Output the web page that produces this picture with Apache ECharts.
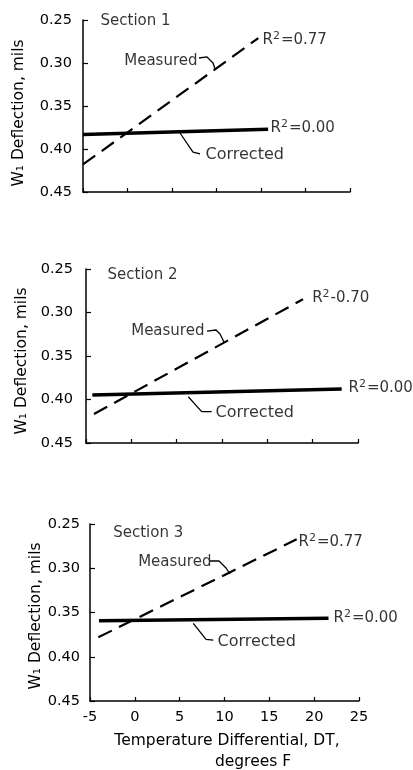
<!DOCTYPE html>
<html><head><meta charset="utf-8">
<script src="https://cdn.jsdelivr.net/npm/echarts@6/dist/echarts.min.js"></script>
<style>html,body{margin:0;padding:0;background:#fff}#c{width:413px;height:770px}</style>
</head><body><div id="c"></div>
<script>
// ---- data ----
const sections = ['Section 1', 'Section 2', 'Section 3'];
const xTicks = [-5, 0, 5, 10, 15, 20, 25];
const yTicks = [0.25, 0.30, 0.35, 0.40, 0.45];
const measuredX = [[-5, 14.7], [-4.12, 18.93], [-4.07, 18.05]];
const measuredY = [[0.418, 0.271], [0.4167, 0.2848], [0.378, 0.2673]];
const correctedX = [[-5, 15.8], [-4.3, 23.2], [-4.0, 21.6]];
const correctedY = [[0.383, 0.377], [0.3948, 0.388], [0.3592, 0.3566]];
const measuredR2 = ['=0.77', '-0.70', '=0.77'];
const correctedR2 = ['=0.00', '=0.00', '=0.00'];
// annotation anchors, in data units
const sectionAt = [[-3.09, 0.2512], [-2.68, 0.2569], [-2.47, 0.2605]];
const measuredLabelAt = [[7.92, 0.2977], [8.12, 0.3209], [8.6, 0.2935]];
const measuredLeader = [
  [[8.03, 0.2942], [8.93, 0.2930], [9.61, 0.300], [9.83, 0.307]],
  [[8.35, 0.3213], [9.34, 0.3201], [9.78, 0.3247], [10.22, 0.3339]],
  [[8.38, 0.2918], [9.39, 0.2918], [10.17, 0.2997], [10.61, 0.3065]]
];
const measuredR2At = [[15.11, 0.2733], [19.89, 0.283], [18.2, 0.270]];
const correctedR2At = [[16.01, 0.3756], [23.9, 0.3868], [22.1, 0.3566]];
const correctedLabelAt = [[8.71, 0.407], [9.23, 0.4155], [9.16, 0.383]];
const correctedLeader = [
  [[5.90, 0.3814], [7.36, 0.4035], [8.15, 0.4058]],
  [[6.28, 0.3968], [7.76, 0.414], [8.86, 0.414]],
  [[6.52, 0.3622], [7.94, 0.3803], [8.75, 0.3811]]
];
const yTitle = 'W₁ Deflection, mils';
const xTitle1 = 'Temperature Differential, DT,';
const xTitle2 = 'degrees F';

// ---- layout / style ----
const FONT = 'DejaVu Sans';
const INK = '#000';
const grids = [
  {left: 83, top: 20, width: 267, height: 172},
  {left: 86, top: 269, width: 272, height: 174},
  {left: 90, top: 524, width: 269, height: 177}
];
const yLabelMargin = [11, 13, 10];
const yTitlePos = [[19, 113], [22, 361], [36, 616]];

const r2Rich = {
  b: {fontFamily: FONT, fontSize: 15, color: INK},
  s: {fontFamily: FONT, fontSize: 11, color: INK, padding: [0, 1, 8, 0]}
};

const xAxes = [], yAxes = [], series = [];
grids.forEach((g, i) => {
  xAxes.push({
    type: 'value', gridIndex: i, min: xTicks[0], max: xTicks[xTicks.length - 1],
    interval: xTicks[1] - xTicks[0],
    axisLine: {show: true, onZero: false, lineStyle: {color: INK, width: 1.5}},
    axisTick: {show: true, inside: true, length: 4, lineStyle: {color: INK, width: 1.2}},
    axisLabel: {show: i === 2, color: INK, fontFamily: FONT, fontSize: 14.5, margin: 9},
    splitLine: {show: false}
  });
  yAxes.push({
    type: 'value', gridIndex: i, inverse: true, min: yTicks[0], max: yTicks[yTicks.length - 1],
    interval: 0.05,
    axisLine: {show: true, onZero: false, lineStyle: {color: INK, width: 1.5}},
    axisTick: {show: true, inside: true, length: 5, lineStyle: {color: INK, width: 1.2}},
    axisLabel: {color: INK, fontFamily: FONT, fontSize: 14.5, margin: yLabelMargin[i],
      formatter: v => v.toFixed(2)},
    splitLine: {show: false}
  });
  series.push({
    type: 'line', xAxisIndex: i, yAxisIndex: i, symbol: 'none', silent: true,
    data: measuredX[i].map((x, k) => [x, measuredY[i][k]]),
    lineStyle: {color: INK, width: 2.2, type: [15, 8]}
  });
  series.push({
    type: 'line', xAxisIndex: i, yAxisIndex: i, symbol: 'none', silent: true,
    data: correctedX[i].map((x, k) => [x, correctedY[i][k]]),
    lineStyle: {color: INK, width: 3.5}
  });
  [measuredLeader[i], correctedLeader[i]].forEach(pts => series.push({
    type: 'line', xAxisIndex: i, yAxisIndex: i, symbol: 'none', silent: true,
    data: pts, lineStyle: {color: INK, width: 1.3}
  }));
  const lab = (pos, text, where, size) => ({
    value: pos,
    label: {show: true, position: where, distance: 0, formatter: text,
      color: INK, fontFamily: FONT, fontSize: size}
  });
  const r2lab = (pos, tail) => ({
    value: pos,
    label: {show: true, position: 'right', distance: 0,
      formatter: '{b|R}{s|2}{b|' + tail + '}', rich: r2Rich}
  });
  series.push({
    type: 'scatter', xAxisIndex: i, yAxisIndex: i, symbolSize: 1, silent: true,
    itemStyle: {color: 'rgba(0,0,0,0)'},
    data: [
      lab(sectionAt[i], sections[i], 'right', 15),
      lab(measuredLabelAt[i], 'Measured', 'left', 15),
      r2lab(measuredR2At[i], measuredR2[i]),
      r2lab(correctedR2At[i], correctedR2[i]),
      lab(correctedLabelAt[i], 'Corrected', 'right', 16)
    ]
  });
});

const graphic = yTitlePos.map(p => ({
  type: 'text', x: p[0], y: p[1], rotation: Math.PI / 2, silent: true,
  style: {text: yTitle, fill: INK, font: '15.5px "' + FONT + '"', align: 'center', verticalAlign: 'middle'}
}));
graphic.push({type: 'text', x: 227, y: 741, silent: true,
  style: {text: xTitle1, fill: INK, font: '15.5px "' + FONT + '"', align: 'center', verticalAlign: 'middle'}});
graphic.push({type: 'text', x: 253, y: 762, silent: true,
  style: {text: xTitle2, fill: INK, font: '15.5px "' + FONT + '"', align: 'center', verticalAlign: 'middle'}});

const chart = echarts.init(document.getElementById('c'), null, {renderer: 'canvas'});
chart.setOption({
  animation: false,
  backgroundColor: '#fff',
  grid: grids,
  xAxis: xAxes,
  yAxis: yAxes,
  series: series,
  graphic: graphic
});
</script></body></html>
